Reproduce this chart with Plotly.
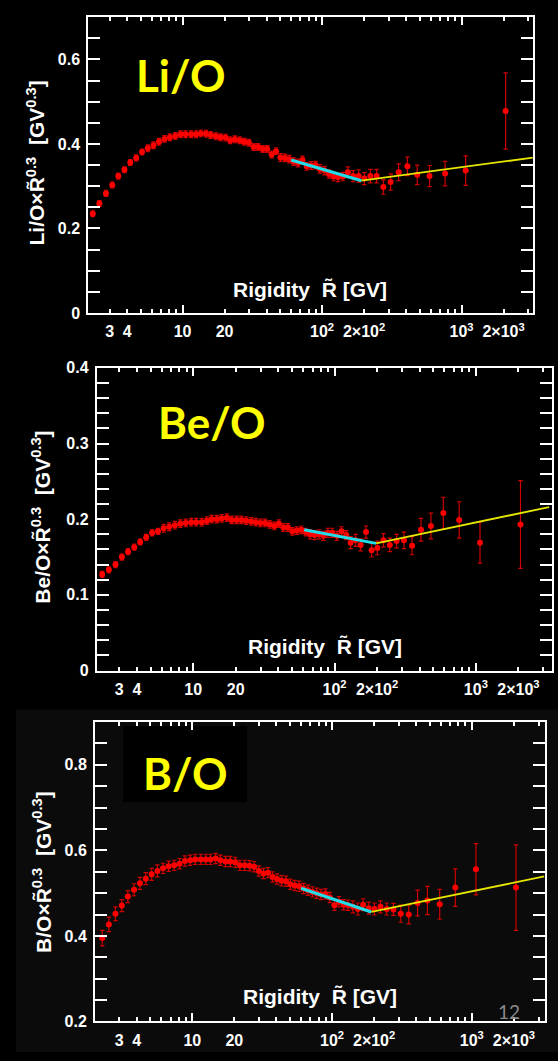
import plotly.graph_objects as go

W, H = 558, 1061

# Rigidity bin centres (GV)
rigidity = [2.27, 2.53, 2.82, 3.13, 3.46, 3.83, 4.22, 4.65, 5.12, 5.63,
            6.18, 6.77, 7.42, 8.11, 8.86, 9.67, 10.5, 11.5, 12.5, 13.5,
            14.7, 15.9, 17.3, 18.7, 20.3, 21.9, 23.7, 25.7, 27.7, 29.9,
            32.3, 34.8, 37.5, 40.4, 43.5, 46.8, 50.3, 54.1, 58.2, 62.5,
            67.2, 72.3, 77.6, 83.4, 89.7, 96.4, 104, 112, 121, 130,
            141, 153, 167, 183, 201, 222, 246, 275, 310, 354,
            409, 481, 589, 762, 1070, 2070]

li_o = [0.235, 0.259, 0.283, 0.303, 0.324, 0.339, 0.356, 0.367, 0.381, 0.390,
        0.397, 0.405, 0.412, 0.416, 0.419, 0.423, 0.423, 0.423, 0.423, 0.425,
        0.424, 0.421, 0.418, 0.416, 0.415, 0.409, 0.411, 0.409, 0.405, 0.403,
        0.393, 0.393, 0.388, 0.388, 0.375, 0.383, 0.368, 0.367, 0.364, 0.358,
        0.355, 0.362, 0.347, 0.349, 0.350, 0.341, 0.337, 0.329, 0.323, 0.321,
        0.323, 0.333, 0.324, 0.324, 0.318, 0.324, 0.324, 0.298, 0.310, 0.333,
        0.347, 0.327, 0.324, 0.330, 0.337, 0.478]
li_o_err = [0.007] * 9 + [0.008] * 27 + [0.009] * 9 + [0.010] * 6 + \
           [0.013, 0.013, 0.015, 0.014, 0.016, 0.016, 0.017, 0.019, 0.020,
            0.022, 0.023, 0.025, 0.029, 0.035, 0.090]

be_o = [0.127, 0.133, 0.140, 0.150, 0.157, 0.163, 0.170, 0.176, 0.182, 0.184,
        0.188, 0.190, 0.192, 0.194, 0.195, 0.196, 0.196, 0.196, 0.198, 0.200,
        0.200, 0.201, 0.202, 0.199, 0.199, 0.199, 0.198, 0.197, 0.196, 0.195,
        0.195, 0.193, 0.191, 0.194, 0.189, 0.189, 0.184, 0.185, 0.186, 0.183,
        0.180, 0.179, 0.180, 0.178, 0.182, 0.182, 0.178, 0.184, 0.179, 0.169,
        0.172, 0.166, 0.183, 0.159, 0.162, 0.172, 0.166, 0.171, 0.172, 0.165,
        0.186, 0.191, 0.208, 0.199, 0.169, 0.193]
be_o_err = [0.004] * 10 + [0.005] * 30 + [0.006] * 9 + \
           [0.008, 0.008, 0.008, 0.008, 0.009, 0.009, 0.009, 0.009, 0.009,
            0.011, 0.012, 0.015, 0.017, 0.021, 0.024, 0.027, 0.058]

b_o = [0.395, 0.427, 0.452, 0.471, 0.492, 0.508, 0.523, 0.534, 0.544, 0.552,
       0.558, 0.563, 0.565, 0.569, 0.575, 0.577, 0.579, 0.579, 0.579, 0.579,
       0.581, 0.577, 0.574, 0.574, 0.572, 0.565, 0.565, 0.564, 0.562, 0.552,
       0.546, 0.548, 0.538, 0.533, 0.529, 0.528, 0.521, 0.518, 0.516, 0.511,
       0.507, 0.503, 0.500, 0.497, 0.498, 0.490, 0.472, 0.480, 0.473, 0.472,
       0.468, 0.463, 0.473, 0.465, 0.463, 0.468, 0.463, 0.462, 0.452, 0.450,
       0.477, 0.483, 0.474, 0.513, 0.556, 0.513]
b_o_err = [0.018, 0.017, 0.016] + [0.014] * 7 + [0.012] * 40 + [0.014] * 8 + \
          [0.020, 0.022, 0.030, 0.033, 0.035, 0.044, 0.060, 0.100]

# Broken-line fits (below / above the break)
li_o_low_x, li_o_low_y = [60, 192], [0.362, 0.313]
li_o_high_x, li_o_high_y = [192, 3300], [0.313, 0.368]
be_o_low_x, be_o_low_y = [61, 197], [0.186, 0.168]
be_o_high_x, be_o_high_y = [197, 3300], [0.168, 0.216]
b_o_low_x, b_o_low_y = [60, 191], [0.5115, 0.456]
b_o_high_x, b_o_high_y = [191, 3300], [0.456, 0.539]

x_tick_vals = [3, 4, 10, 20, 100, 200, 1000, 2000]
x_tick_text = ["3", "4", "10", "20", "10<sup>2</sup>", "2×10<sup>2</sup>",
               "10<sup>3</sup>", "2×10<sup>3</sup>"]
decade_ticks = [10, 100, 1000]
minor_x_ticks = [m * d for d in (1, 10, 100, 1000) for m in range(2, 10)]

panel_names = ["Li/O", "Be/O", "B/O"]
y_tick_vals = [[0, 0.2, 0.4, 0.6], [0, 0.1, 0.2, 0.3, 0.4], [0.2, 0.4, 0.6, 0.8]]
y_tick_text = [["0", "0.2", "0.4", "0.6"], ["0", "0.1", "0.2", "0.3", "0.4"],
               ["0.2", "0.4", "0.6", "0.8"]]
y_ranges = [[0, 0.7], [0, 0.4], [0.2, 0.9]]
y_minor = [0.05, 0.02, 0.05]
x_ranges = [[0.324, 3.51], [0.318, 3.536], [0.304, 3.52]]

# panel frames in pixels: left, right, top, bottom
frames = [(88.3, 532.7, 9.3, 310.0), (96.8, 551.6, 365.7, 673.3), (95.0, 544.5, 725.7, 1030.0)]

values = [li_o, be_o, b_o]
errors = [li_o_err, be_o_err, b_o_err]
low_fits = [(li_o_low_x, li_o_low_y), (be_o_low_x, be_o_low_y), (b_o_low_x, b_o_low_y)]
high_fits = [(li_o_high_x, li_o_high_y), (be_o_high_x, be_o_high_y), (b_o_high_x, b_o_high_y)]

TICK_FONT = dict(family="Liberation Sans, Arial, sans-serif", size=16, color="white", weight="bold")

fig = go.Figure()
layout = dict(width=W, height=H, margin=dict(l=0, r=0, t=0, b=0),
              paper_bgcolor="black", plot_bgcolor="rgba(0,0,0,0)", showlegend=False)

for i in range(3):
    n = i + 1
    ov = i + 4
    xid, yid, oxid = f"x{n if n > 1 else ''}", f"y{n if n > 1 else ''}", f"x{ov}"
    l, r, t, b = frames[i]
    xdom = [l / W, r / W]
    ydom = [1 - b / H, 1 - t / H]
    layout[f"xaxis{n if n > 1 else ''}"] = dict(
        type="log", domain=xdom, range=x_ranges[i], anchor=yid,
        showline=True, linecolor="white", linewidth=2, mirror="allticks",
        ticks="inside", ticklen=4, tickwidth=1.5, tickcolor="white",
        tickmode="array", tickvals=x_tick_vals, ticktext=x_tick_text,
        tickfont=TICK_FONT, ticklabelstandoff=3,
        showgrid=False, zeroline=False,
        minor=dict(tickmode="array", tickvals=minor_x_ticks, ticks="inside",
                   ticklen=4, tickwidth=1.5, tickcolor="white", showgrid=False))
    layout[f"xaxis{ov}"] = dict(
        type="log", domain=xdom, range=x_ranges[i], anchor=yid,
        overlaying=xid, showline=False, mirror="allticks",
        ticks="inside", ticklen=8, tickwidth=1.5, tickcolor="white",
        tickmode="array", tickvals=decade_ticks, showticklabels=False,
        showgrid=False, zeroline=False)
    layout[f"yaxis{n if n > 1 else ''}"] = dict(
        domain=ydom, range=y_ranges[i], anchor=xid,
        showline=True, linecolor="white", linewidth=2, mirror="allticks",
        ticks="inside", ticklen=12, tickwidth=1.5, tickcolor="white",
        tickmode="array", tickvals=y_tick_vals[i], ticktext=y_tick_text[i],
        tickfont=TICK_FONT, ticklabelstandoff=3,
        showgrid=False, zeroline=False,
        minor=dict(dtick=y_minor[i], tick0=0, ticks="inside", ticklen=7,
                   tickwidth=1.5, tickcolor="white", showgrid=False))

    fig.add_trace(go.Scatter(
        x=rigidity, y=values[i], mode="markers", xaxis=xid, yaxis=yid,
        marker=dict(color="#ff0000", size=6, line=dict(width=0)),
        error_y=dict(type="data", array=errors[i], color="#d00000",
                     thickness=1.2, width=2.2)))
    fig.add_trace(go.Scatter(
        x=low_fits[i][0], y=low_fits[i][1], mode="lines", xaxis=oxid, yaxis=yid,
        line=dict(color="#22dde8", width=3)))
    fig.add_trace(go.Scatter(
        x=high_fits[i][0], y=high_fits[i][1], mode="lines", xaxis=oxid, yaxis=yid,
        line=dict(color="#e6e600", width=1.8)))

fig.update_layout(**layout)

TITLE_FONT = dict(family="Liberation Sans, Arial, sans-serif", size=21, color="white", weight="bold")
LABEL_FONT = dict(family="Lato, Open Sans, sans-serif", size=44, color="#ffff00", weight="bold")

y_title_pos = [(36, 158), (41, 518), (42, 878)]
x_title_pos = [(310, 286), (325, 649), (320, 1005)]
label_pos = [(180.5, 68), (211.5, 421), (185, 777)]

ann = []
for i in range(3):
    tx, ty = y_title_pos[i]
    ann.append(dict(text=f"{panel_names[i]}×R\u0303<sup>0.3</sup>\u00a0\u00a0[GV<sup>0.3</sup>]",
                    x=tx / W, y=1 - ty / H, xref="paper", yref="paper",
                    textangle=-90, showarrow=False, xanchor="center", yanchor="middle",
                    font=TITLE_FONT))
    tx, ty = x_title_pos[i]
    ann.append(dict(text="Rigidity\u00a0\u00a0R\u0303 [GV]", x=tx / W, y=1 - ty / H,
                    xref="paper", yref="paper", showarrow=False,
                    xanchor="center", yanchor="middle", font=TITLE_FONT))
    tx, ty = label_pos[i]
    ann.append(dict(text=panel_names[i], x=tx / W, y=1 - ty / H,
                    xref="paper", yref="paper", showarrow=False,
                    xanchor="center", yanchor="middle", font=LABEL_FONT))
ann.append(dict(text="12", x=509 / W, y=1 - 1020 / H, xref="paper", yref="paper",
                showarrow=False, xanchor="center", yanchor="middle",
                font=dict(family="Lato, sans-serif", size=19, color="#8a8a8a")))

shapes = [
    dict(type="rect", xref="paper", yref="paper", x0=16 / W, x1=1, y0=0, y1=1 - 713 / H,
         fillcolor="#0b0b0b", line=dict(width=0), layer="below"),
    dict(type="rect", xref="paper", yref="paper", x0=123 / W, x1=247 / W,
         y0=1 - 807 / H, y1=1 - 730 / H, fillcolor="black", line=dict(width=0), layer="below"),
]
fig.update_layout(annotations=ann, shapes=shapes)

fig.write_html("out.html")
